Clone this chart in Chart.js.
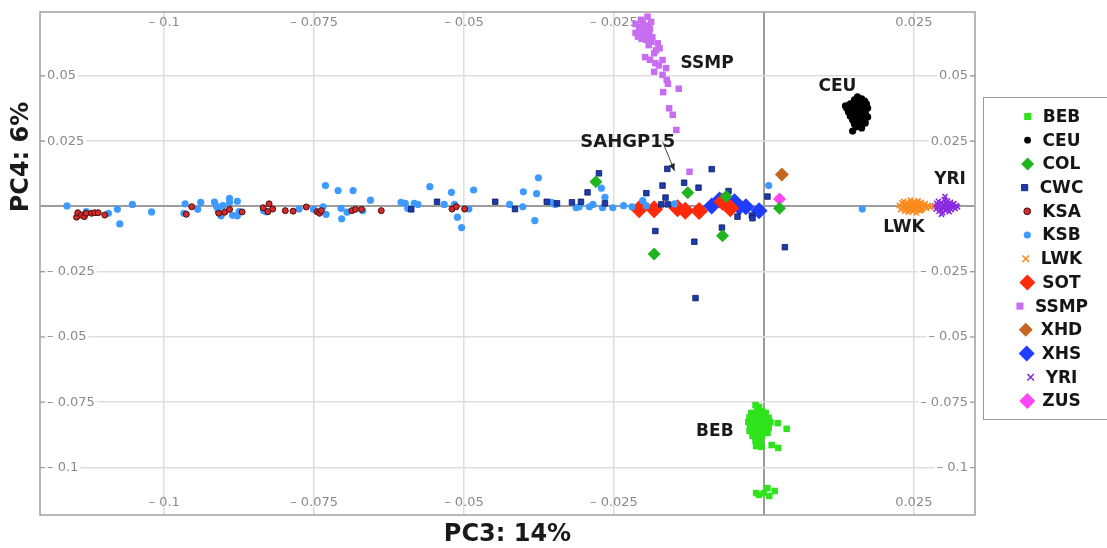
<!DOCTYPE html>
<html>
<head>
<meta charset="utf-8">
<script src="https://cdn.jsdelivr.net/npm/chart.js@4.4.1/dist/chart.umd.min.js"></script>
<style>
  html, body { margin: 0; padding: 0; background: #fff; }
  #wrap { width: 1107px; height: 548px; }
</style>
</head>
<body>
<div id="wrap"><canvas id="pca"></canvas></div>
<script>
// PCA, PC3 against PC4, one scatter series per population
var populations = ['BEB', 'CEU', 'COL', 'CWC', 'KSA', 'KSB', 'LWK', 'SOT', 'SSMP', 'XHD', 'XHS', 'YRI', 'ZUS'];
var xTickValues = [-0.1, -0.075, -0.05, -0.025, 0, 0.025];
var yTickValues = [0.05, 0.025, 0, -0.025, -0.05, -0.075, -0.1];

// [PC3, PC4] per sample
var BEB = [[-0.0014,-0.0761],[-0.0008,-0.0768],[-0.0011,-0.0780],[-0.0003,-0.0784],[-0.0021,-0.0791],[-0.0014,-0.0795],
  [-0.0006,-0.0795],[0.0003,-0.0791],[-0.0024,-0.0807],[-0.0018,-0.0810],[-0.0009,-0.0810],[-0.0001,-0.0807],[0.0008,-0.0810],
  [-0.0026,-0.0826],[-0.0019,-0.0826],[-0.0013,-0.0830],[-0.0004,-0.0826],[0.0004,-0.0830],[0.0011,-0.0826],[-0.0023,-0.0841],
  [-0.0014,-0.0845],[-0.0008,-0.0841],[0.0001,-0.0845],[0.0008,-0.0849],[-0.0024,-0.0860],[-0.0018,-0.0860],[-0.0009,-0.0864],
  [-0.0001,-0.0860],[0.0006,-0.0868],[-0.0019,-0.0879],[-0.0011,-0.0883],[-0.0003,-0.0879],[-0.0014,-0.0898],[-0.0006,-0.0902],
  [-0.0013,-0.0918],[-0.0004,-0.0921],[0.0023,-0.0830],[0.0038,-0.0852],[0.0013,-0.0914],[0.0024,-0.0925],
  [-0.0008,-0.1105],[0.0006,-0.1079],[0.0018,-0.1090],[0.0000,-0.1098],[0.0009,-0.1109],[-0.0013,-0.1098]];
var CEU = [[0.0156,0.0420],[0.0163,0.0412],[0.0151,0.0408],[0.0159,0.0400],[0.0168,0.0404],[0.0144,0.0393],[0.0153,0.0389],
  [0.0163,0.0385],[0.0171,0.0393],[0.0138,0.0377],[0.0146,0.0374],[0.0156,0.0377],[0.0166,0.0374],[0.0173,0.0377],[0.0141,0.0362],
  [0.0151,0.0358],[0.0159,0.0362],[0.0169,0.0358],[0.0144,0.0347],[0.0154,0.0343],[0.0164,0.0347],[0.0173,0.0343],[0.0148,0.0331],
  [0.0158,0.0328],[0.0166,0.0331],[0.0151,0.0316],[0.0161,0.0316],[0.0169,0.0320],[0.0154,0.0305],[0.0163,0.0301],[0.0148,0.0289],
  [0.0143,0.0370],[0.0136,0.0385]];
var COL = [[-0.0280,0.0095],[-0.0127,0.0053],[-0.0069,-0.0112],[-0.0183,-0.0182],[0.0026,-0.0007],[-0.0063,0.0038]];
var CWC = [[-0.0588,-0.0011],[-0.0545,0.0018],[-0.0448,0.0018],[-0.0415,-0.0010],[-0.0362,0.0018],[-0.0345,0.0012],
  [-0.0320,0.0016],[-0.0305,0.0018],[-0.0294,0.0054],[-0.0275,0.0127],[-0.0265,0.0012],[-0.0196,0.0051],[-0.0169,0.0080],
  [-0.0164,0.0034],[-0.0171,0.0008],[-0.0160,0.0008],[-0.0161,0.0144],[-0.0181,-0.0094],[-0.0133,0.0091],[-0.0109,0.0072],
  [-0.0087,0.0143],[-0.0059,0.0059],[-0.0044,-0.0039],[-0.0020,-0.0035],[-0.0019,-0.0045],[0.0006,0.0038],[0.0035,-0.0156],
  [-0.0116,-0.0135],[-0.0070,-0.0081],[-0.0114,-0.0351]];
var KSA = [[-0.1146,-0.0041],[-0.1144,-0.0024],[-0.1138,-0.0033],[-0.1133,-0.0039],[-0.1130,-0.0026],[-0.1121,-0.0026],
  [-0.1116,-0.0024],[-0.1110,-0.0024],[-0.1099,-0.0033],[-0.0963,-0.0030],[-0.0954,-0.0001],[-0.0909,-0.0026],[-0.0899,-0.0022],
  [-0.0891,-0.0011],[-0.0870,-0.0021],[-0.0835,-0.0005],[-0.0825,0.0010],[-0.0827,-0.0020],[-0.0819,-0.0010],[-0.0798,-0.0016],
  [-0.0785,-0.0018],[-0.0763,-0.0002],[-0.0745,-0.0020],[-0.0741,-0.0026],[-0.0738,-0.0016],[-0.0687,-0.0016],[-0.0681,-0.0011],
  [-0.0671,-0.0011],[-0.0638,-0.0016],[-0.0520,-0.0010],[-0.0513,-0.0001],[-0.0499,-0.0010]];
var KSB = [[-0.1162,0.0002],[-0.1130,-0.0020],[-0.1093,-0.0026],[-0.1078,-0.0011],[-0.1074,-0.0067],[-0.1053,0.0008],
  [-0.1021,-0.0021],[-0.0965,0.0010],[-0.0967,-0.0026],[-0.0944,-0.0011],[-0.0939,0.0016],[-0.0916,0.0017],[-0.0913,0.0002],
  [-0.0910,-0.0016],[-0.0905,-0.0036],[-0.0902,0.0003],[-0.0891,0.0031],[-0.0891,0.0015],[-0.0878,0.0020],[-0.0886,-0.0034],
  [-0.0878,-0.0036],[-0.0875,-0.0020],[-0.0834,-0.0016],[-0.0830,-0.0020],[-0.0775,-0.0010],[-0.0751,-0.0011],[-0.0735,-0.0001],
  [-0.0731,0.0080],[-0.0730,-0.0030],[-0.0710,0.0061],[-0.0705,-0.0007],[-0.0704,-0.0047],[-0.0695,-0.0022],[-0.0685,0.0061],
  [-0.0669,-0.0016],[-0.0656,0.0024],[-0.0605,0.0016],[-0.0598,0.0012],[-0.0594,-0.0007],[-0.0583,0.0012],[-0.0577,0.0008],
  [-0.0557,0.0076],[-0.0533,0.0008],[-0.0521,0.0054],[-0.0516,0.0008],[-0.0511,-0.0041],[-0.0504,-0.0081],[-0.0492,-0.0010],
  [-0.0484,0.0063],[-0.0424,0.0008],[-0.0402,-0.0001],[-0.0401,0.0056],[-0.0382,-0.0054],[-0.0379,0.0049],[-0.0376,0.0110],
  [-0.0354,0.0016],[-0.0348,0.0008],[-0.0313,-0.0005],[-0.0308,-0.0001],[-0.0291,-0.0001],[-0.0285,0.0008],[-0.0271,0.0070],
  [-0.0265,0.0035],[-0.0269,-0.0005],[-0.0252,-0.0005],[-0.0234,0.0003],[-0.0220,-0.0001],[-0.0202,0.0022],[-0.0196,0.0003],
  [-0.0149,0.0010],[0.0008,0.0080],[0.0164,-0.0010]];
var LWK = [[0.0226,0.0004],[0.0228,-0.0012],[0.0230,0.0014],[0.0232,-0.0003],[0.0233,0.0020],[0.0235,-0.0018],[0.0236,0.0006],
  [0.0238,-0.0008],[0.0239,0.0016],[0.0240,0.0000],[0.0241,-0.0022],[0.0242,0.0010],[0.0243,-0.0013],[0.0244,0.0024],
  [0.0245,0.0003],[0.0246,-0.0006],[0.0247,0.0015],[0.0248,-0.0019],[0.0249,0.0008],[0.0250,-0.0002],[0.0251,0.0019],
  [0.0252,-0.0011],[0.0253,0.0005],[0.0254,-0.0025],[0.0255,0.0012],[0.0256,-0.0006],[0.0257,0.0021],[0.0258,0.0001],
  [0.0259,-0.0015],[0.0260,0.0009],[0.0261,-0.0004],[0.0262,0.0016],[0.0264,-0.0010],[0.0265,0.0004],[0.0267,-0.0002],
  [0.0269,0.0011],[0.0271,-0.0007],[0.0274,0.0003],[0.0277,-0.0003],[0.0280,0.0002],[0.0237,0.0002],[0.0244,-0.0003],
  [0.0250,0.0013],[0.0256,0.0003],[0.0262,-0.0016]];
var SOT = [[-0.0208,-0.0011],[-0.0183,-0.0011],[-0.0144,-0.0007],[-0.0131,-0.0016],[-0.0108,-0.0017],[-0.0069,0.0018],[-0.0056,-0.0007]];
var SSMP = [[-0.0194,0.0727],[-0.0202,0.0702],[-0.0208,0.0676],[-0.0199,0.0669],[-0.0191,0.0657],[-0.0210,0.0651],
  [-0.0196,0.0638],[-0.0188,0.0631],[-0.0177,0.0625],[-0.0174,0.0606],[-0.0183,0.0587],[-0.0198,0.0572],[-0.0169,0.0561],
  [-0.0181,0.0549],[-0.0163,0.0530],[-0.0183,0.0516],[-0.0169,0.0504],[-0.0162,0.0485],[-0.0168,0.0438],[-0.0142,0.0451],
  [-0.0158,0.0376],[-0.0152,0.0351],[-0.0146,0.0293],[-0.0124,0.0133],[-0.0214,0.0699],[-0.0206,0.0688],[-0.0193,0.0688],
  [-0.0188,0.0707],[-0.0205,0.0715],[-0.0198,0.0693],[-0.0190,0.0680],[-0.0214,0.0665],[-0.0202,0.0660],[-0.0186,0.0648],
  [-0.0204,0.0642],[-0.0192,0.0618],[-0.0180,0.0598],[-0.0175,0.0540],[-0.0190,0.0562],[-0.0160,0.0470]];
var XHD = [[0.0030,0.0122]];
var XHS = [[-0.0087,0.0002],[-0.0074,0.0025],[-0.0049,0.0018],[-0.0041,-0.0002],[-0.0030,-0.0001],[-0.0008,-0.0016]];
var YRI = [[0.0285,0.0002],[0.0287,-0.0010],[0.0288,0.0012],[0.0290,-0.0004],[0.0291,0.0020],[0.0292,-0.0018],[0.0293,0.0006],
  [0.0295,-0.0012],[0.0296,0.0015],[0.0297,0.0000],[0.0298,-0.0024],[0.0299,0.0009],[0.0300,-0.0007],[0.0301,0.0026],
  [0.0302,0.0004],[0.0303,-0.0016],[0.0304,0.0013],[0.0305,-0.0004],[0.0306,0.0021],[0.0307,-0.0009],[0.0308,0.0007],
  [0.0309,-0.0020],[0.0310,0.0002],[0.0311,0.0016],[0.0312,-0.0012],[0.0314,0.0006],[0.0315,-0.0004],[0.0317,0.0011],
  [0.0319,-0.0008],[0.0321,0.0003],[0.0323,-0.0002],[0.0302,0.0038],[0.0296,-0.0030],[0.0306,0.0000]];
var ZUS = [[0.0026,0.0029]];

var samples = { BEB: BEB, CEU: CEU, COL: COL, CWC: CWC, KSA: KSA, KSB: KSB, LWK: LWK,
  SOT: SOT, SSMP: SSMP, XHD: XHD, XHS: XHS, YRI: YRI, ZUS: ZUS };

// marker look per population (key = legend size)
var looks = {
  BEB:  { style: 'rect',     radius: 4.6, key: 5,   fill: '#2fe31c', line: '#2fe31c', width: 0 },
  CEU:  { style: 'circle',   radius: 3.6, key: 3.4, fill: '#000000', line: '#000000', width: 0 },
  COL:  { style: 'rectRot',  radius: 6.5, key: 6.5, fill: '#1fb51f', line: '#1fb51f', width: 0 },
  CWC:  { style: 'rect',     radius: 3.9, key: 4.4, fill: '#1d3bb0', line: '#0c1a60', width: 0.8 },
  KSA:  { style: 'circle',   radius: 3.0, key: 3.4, fill: '#d42a2a', line: '#4a0d0d', width: 1 },
  KSB:  { style: 'circle',   radius: 3.6, key: 3.6, fill: '#3d9bff', line: '#3d9bff', width: 0 },
  LWK:  { style: 'crossRot', radius: 3.6, key: 4.6, fill: '#ff8a1c', line: '#ff8a1c', width: 1.6 },
  SOT:  { style: 'rectRot',  radius: 9,   key: 8,   fill: '#ff2a0a', line: '#ff2a0a', width: 0 },
  SSMP: { style: 'rect',     radius: 4.6, key: 5,   fill: '#c86cf2', line: '#c86cf2', width: 0 },
  XHD:  { style: 'rectRot',  radius: 7,   key: 7,   fill: '#c6651f', line: '#c6651f', width: 0 },
  XHS:  { style: 'rectRot',  radius: 8.5, key: 8,   fill: '#1f3cff', line: '#1f3cff', width: 0 },
  YRI:  { style: 'crossRot', radius: 3.6, key: 4.6, fill: '#8a2be2', line: '#8a2be2', width: 1.6 },
  ZUS:  { style: 'rectRot',  radius: 6.5, key: 8,   fill: '#ff45f5', line: '#ff45f5', width: 0 }
};

var datasets = populations.map(function (name) {
  var lk = looks[name];
  return {
    label: name,
    data: samples[name].map(function (p) { return { x: p[0], y: p[1] }; }),
    pointStyle: lk.style,
    pointRadius: lk.radius,
    pointBackgroundColor: lk.fill,
    pointBorderColor: lk.line,
    pointBorderWidth: lk.width,
    showLine: false
  };
});

function tickText(v) {
  var s = String(Math.abs(v));
  return v < 0 ? '\u2013 ' + s : s;
}

var TICK_FONT = '13px "DejaVu Sans"';
var BOLD = '"DejaVu Sans", sans-serif';

var pcaDecor = {
  id: 'pcaDecor',
  // tick labels sit inside the frame, under the points
  beforeDatasetsDraw: function (chart) {
    var ctx = chart.ctx, a = chart.chartArea, sx = chart.scales.x, sy = chart.scales.y;
    ctx.save();
    ctx.font = TICK_FONT;
    ctx.textBaseline = 'middle';
    ctx.textAlign = 'center';
    ctx.fillStyle = '#8a8a8a';
    xTickValues.forEach(function (v) {
      if (v === 0) return;
      var px = sx.getPixelForValue(v);
      ctx.fillText(tickText(v), px, a.top + 11);
      ctx.fillText(tickText(v), px, a.bottom - 12);
    });
    ctx.strokeStyle = '#9a9a9a';
    ctx.lineWidth = 1.2;
    yTickValues.forEach(function (v) {
      if (v === 0) return;
      var py = sy.getPixelForValue(v);
      var t = tickText(v);
      var w = ctx.measureText(t).width;
      // blank the grid line behind the label
      ctx.fillStyle = '#fff';
      ctx.fillRect(a.left + 5, py - 3, w + 4, 6);
      ctx.fillRect(a.right - 9 - w, py - 3, w + 4, 6);
      ctx.fillStyle = '#8a8a8a';
      ctx.textAlign = 'left';
      ctx.fillText(t, a.left + 7, py);
      ctx.textAlign = 'right';
      ctx.fillText(t, a.right - 7, py);
      ctx.beginPath();
      ctx.moveTo(a.left, py); ctx.lineTo(a.left + 5, py);
      ctx.moveTo(a.right - 5, py); ctx.lineTo(a.right, py);
      ctx.stroke();
    });
    ctx.restore();
  },
  // cluster names and the SAHGP15 pointer
  afterDatasetsDraw: function (chart) {
    var ctx = chart.ctx, sx = chart.scales.x, sy = chart.scales.y;
    var names = [
      ['SSMP', -0.0139, 0.0546, 'bold 17px ' + BOLD],
      ['CEU', 0.0091, 0.0458, 'bold 17px ' + BOLD],
      ['SAHGP15', -0.0306, 0.0247, 'bold 18px ' + BOLD],
      ['YRI', 0.0284, 0.0102, 'bold 17px ' + BOLD],
      ['LWK', 0.0199, -0.0082, 'bold 17px ' + BOLD],
      ['BEB', -0.0113, -0.0864, 'bold 17px ' + BOLD]
    ];
    ctx.save();
    ctx.fillStyle = '#1a1a1a';
    ctx.textAlign = 'left';
    ctx.textBaseline = 'middle';
    names.forEach(function (n) {
      ctx.font = n[3];
      ctx.fillText(n[0], sx.getPixelForValue(n[1]), sy.getPixelForValue(n[2]));
    });
    var x1 = sx.getPixelForValue(-0.0169), y1 = sy.getPixelForValue(0.0248);
    var x2 = sx.getPixelForValue(-0.0149), y2 = sy.getPixelForValue(0.0137);
    var ang = Math.atan2(y2 - y1, x2 - x1);
    ctx.strokeStyle = '#444';
    ctx.fillStyle = '#222';
    ctx.lineWidth = 1;
    ctx.beginPath();
    ctx.moveTo(x1, y1); ctx.lineTo(x2, y2);
    ctx.stroke();
    ctx.beginPath();
    ctx.moveTo(x2, y2);
    ctx.lineTo(x2 - 7 * Math.cos(ang) + 3 * Math.sin(ang), y2 - 7 * Math.sin(ang) - 3 * Math.cos(ang));
    ctx.lineTo(x2 - 7 * Math.cos(ang) - 3 * Math.sin(ang), y2 - 7 * Math.sin(ang) + 3 * Math.cos(ang));
    ctx.closePath();
    ctx.fill();
    ctx.restore();
  },
  // frame, axis titles, boxed legend
  afterDraw: function (chart) {
    var ctx = chart.ctx, a = chart.chartArea;
    ctx.save();
    ctx.strokeStyle = '#a0a0a0';
    ctx.lineWidth = 1.5;
    ctx.strokeRect(a.left, a.top, a.right - a.left, a.bottom - a.top);

    ctx.fillStyle = '#1a1a1a';
    ctx.font = 'bold 24px ' + BOLD;
    ctx.textAlign = 'center';
    ctx.textBaseline = 'middle';
    ctx.fillText('PC3: 14%', (a.left + a.right) / 2, 535);
    ctx.save();
    ctx.translate(22, 157);
    ctx.rotate(-Math.PI / 2);
    ctx.fillText('PC4: 6%', 0, 0);
    ctx.restore();

    // legend
    ctx.strokeStyle = '#9a9a9a';
    ctx.lineWidth = 1;
    ctx.strokeRect(983.5, 97.5, 140, 322);
    ctx.font = 'bold 17px ' + BOLD;
    ctx.textAlign = 'left';
    var cx = 1052, y0 = 116.5, step = 23.7;
    populations.forEach(function (name, i) {
      var lk = looks[name];
      var tw = ctx.measureText(name).width;
      var left = cx - (4 + 15 + tw) / 2;
      var y = y0 + i * step;
      ctx.fillStyle = lk.fill;
      ctx.strokeStyle = lk.line;
      ctx.lineWidth = lk.width;
      Chart.helpers.drawPoint(ctx, { pointStyle: lk.style, radius: lk.key, rotation: 0, borderWidth: lk.width }, left + 4, y);
      ctx.fillStyle = '#151515';
      ctx.fillText(name, left + 19, y + 1);
    });
    ctx.restore();
  }
};

var chart = new Chart(document.getElementById('pca'), {
  type: 'scatter',
  data: { datasets: datasets },
  options: {
    responsive: true,
    maintainAspectRatio: false,
    animation: false,
    layout: { padding: { left: 40, top: 12, right: 132, bottom: 33 } },
    plugins: {
      legend: { display: false },
      tooltip: { enabled: false }
    },
    scales: {
      x: {
        type: 'linear',
        min: -0.1207,
        max: 0.0352,
        afterBuildTicks: function (scale) {
          scale.ticks = xTickValues.map(function (v) { return { value: v }; });
        },
        ticks: { display: false },
        border: { display: false },
        grid: {
          drawTicks: false,
          color: function (c) { return c.tick && c.tick.value === 0 ? '#9c9c9c' : '#dedede'; },
          lineWidth: function (c) { return c.tick && c.tick.value === 0 ? 2 : 1.5; }
        }
      },
      y: {
        type: 'linear',
        min: -0.1182,
        max: 0.0745,
        afterBuildTicks: function (scale) {
          scale.ticks = yTickValues.map(function (v) { return { value: v }; });
        },
        ticks: { display: false },
        border: { display: false },
        grid: {
          drawTicks: false,
          color: function (c) { return c.tick && c.tick.value === 0 ? '#9c9c9c' : '#dedede'; },
          lineWidth: function (c) { return c.tick && c.tick.value === 0 ? 2 : 1.5; }
        }
      }
    }
  },
  plugins: [pcaDecor]
});
</script>
</body>
</html>
